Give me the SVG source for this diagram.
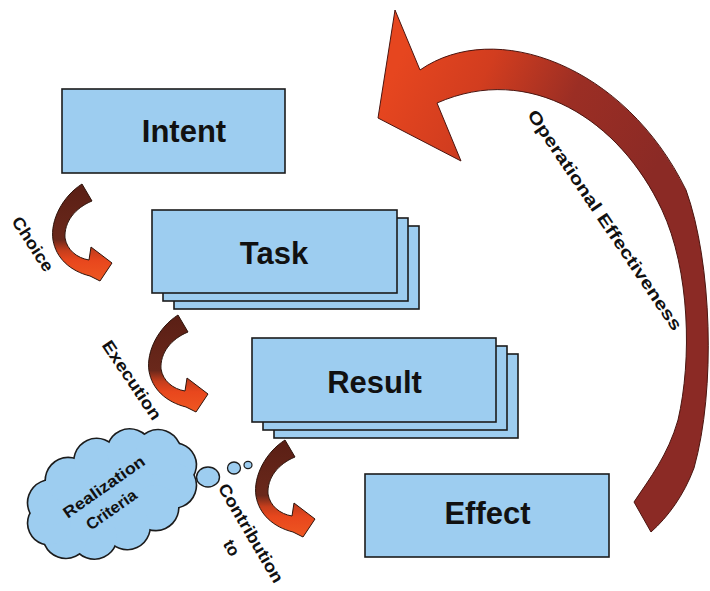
<svg xmlns="http://www.w3.org/2000/svg" width="710" height="591" viewBox="0 0 710 591">
  <defs>
    <style>
      .box{fill:#9dcdf0;stroke:#1c1c1c;stroke-width:1.6}
      .lbl{font-family:"Liberation Sans",Arial,sans-serif;font-weight:bold;fill:#111}
      .name{font-size:31px;text-anchor:middle}
      .edge{font-size:17px;text-anchor:middle}
      .curl{stroke:#2e140c;stroke-width:1;stroke-linejoin:round}
    </style>
    <linearGradient id="curlFill" gradientUnits="userSpaceOnUse" x1="0" y1="184" x2="0" y2="285">
      <stop offset="0" stop-color="#5a1f15"/>
      <stop offset="0.55" stop-color="#6a281b"/>
      <stop offset="0.66" stop-color="#c63e1c"/>
      <stop offset="0.76" stop-color="#e8471d"/>
      <stop offset="1" stop-color="#f05a22"/>
    </linearGradient>
    <linearGradient id="bigFill" gradientUnits="userSpaceOnUse" x1="390" y1="80" x2="640" y2="200">
      <stop offset="0" stop-color="#e6461f"/>
      <stop offset="0.3" stop-color="#d23d1f"/>
      <stop offset="0.62" stop-color="#9b2e24"/>
      <stop offset="1" stop-color="#8b2a25"/>
    </linearGradient>
    <!-- small curled arrow, drawn at the Choice position -->
    <path id="curl" class="curl" fill="url(#curlFill)"
          d="M82,184 C63,196 50,220 53,240 C56,258 70,271 90,276 L100,281 L112,263 L91,247 L89,260 C77,258 67,250 65,238 C64,222 75,208 92,201 Z"/>
    <!-- cloud puffs, centred on the origin -->
    <g id="puffs">
      <ellipse cx="0" cy="0" rx="66" ry="36"/>
      <circle cx="65" cy="0" r="20"/>
      <circle cx="56" cy="17" r="21"/>
      <circle cx="32" cy="29" r="21"/>
      <circle cx="0" cy="34" r="21"/>
      <circle cx="-32" cy="29" r="21"/>
      <circle cx="-56" cy="17" r="21"/>
      <circle cx="-65" cy="0" r="20"/>
      <circle cx="-56" cy="-17" r="21"/>
      <circle cx="-32" cy="-29" r="21"/>
      <circle cx="0" cy="-34" r="21"/>
      <circle cx="32" cy="-29" r="21"/>
      <circle cx="56" cy="-17" r="21"/>
    </g>
  </defs>

  <rect width="710" height="591" fill="#ffffff"/>

  <!-- connectors -->
  <g id="connectors">
    <path id="opEffectiveness" fill="url(#bigFill)" stroke="#4a1510" stroke-width="1" stroke-linejoin="round"
          d="M395,10 L420,70 C495,18 625,65 686,190 C712,262 716,390 694,468 C684,495 668,517 651,532 L634,502 C650,478 668,455 678,420 C692,360 690,270 662,210 C620,120 530,62 437,103 L461,161 L378,118 Z"/>
    <use id="choice" href="#curl"/>
    <use id="execution" href="#curl" transform="translate(96,131)"/>
    <use id="contribution" href="#curl" transform="translate(203,256)"/>

    <text class="lbl edge" transform="translate(605,220) rotate(56)" y="6" textLength="262" lengthAdjust="spacingAndGlyphs">Operational Effectiveness</text>
    <text class="lbl edge" transform="translate(33,244) rotate(57)" y="6" textLength="62" lengthAdjust="spacingAndGlyphs">Choice</text>
    <text class="lbl edge" transform="translate(132,380) rotate(56)" y="6" textLength="92" lengthAdjust="spacingAndGlyphs">Execution</text>
    <g transform="translate(251,533) rotate(59.5)">
      <text class="lbl edge" x="0" y="6" textLength="112" lengthAdjust="spacingAndGlyphs">Contribution</text>
      <text class="lbl edge" x="3" y="30">to</text>
    </g>
  </g>

  <!-- Intent -->
  <g id="intent">
    <rect class="box" x="62" y="89" width="223" height="84"/>
    <text class="lbl name" x="184" y="142">Intent</text>
  </g>

  <!-- Task (stacked) -->
  <g id="task">
    <rect class="box" x="174" y="226" width="245" height="83"/>
    <rect class="box" x="163" y="218" width="245" height="83"/>
    <rect class="box" x="152" y="210" width="245" height="83"/>
    <text class="lbl name" x="274" y="264">Task</text>
  </g>

  <!-- Result (stacked) -->
  <g id="result">
    <rect class="box" x="274" y="354" width="244" height="84"/>
    <rect class="box" x="263" y="346" width="244" height="84"/>
    <rect class="box" x="252" y="338" width="244" height="84"/>
    <text class="lbl name" x="374.5" y="393">Result</text>
  </g>

  <!-- Effect -->
  <g id="effect">
    <rect class="box" x="365" y="474" width="244" height="83"/>
    <text class="lbl name" x="487.5" y="524">Effect</text>
  </g>

  <!-- Realization Criteria thought cloud -->
  <g id="realizationCriteria">
    <g transform="translate(112,494) rotate(-25) scale(1.06)">
      <use href="#puffs" fill="#9dcdf0" stroke="#1c1c1c" stroke-width="3"/>
      <use href="#puffs" fill="#9dcdf0"/>
    </g>
    <ellipse cx="208" cy="477" rx="11.5" ry="10" fill="#9dcdf0" stroke="#1c1c1c" stroke-width="1.4"/>
    <ellipse cx="234" cy="468" rx="6.5" ry="6" fill="#9dcdf0" stroke="#1c1c1c" stroke-width="1.3"/>
    <ellipse cx="248" cy="465" rx="4" ry="3.6" fill="#9dcdf0" stroke="#1c1c1c" stroke-width="1.2"/>
    <g transform="translate(108,498) rotate(-35)">
      <text class="lbl" font-size="16" text-anchor="middle" x="3" y="-6" textLength="96" lengthAdjust="spacingAndGlyphs">Realization</text>
      <text class="lbl" font-size="16" text-anchor="middle" x="-4" y="17" textLength="58" lengthAdjust="spacingAndGlyphs">Criteria</text>
    </g>
  </g>
</svg>
